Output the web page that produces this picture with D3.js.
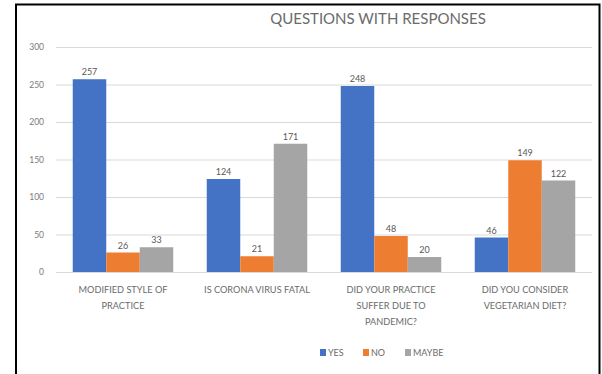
<!DOCTYPE html>
<html><head><meta charset="utf-8">
<script src="https://cdn.jsdelivr.net/npm/d3@7/dist/d3.min.js"></script>
<style>
html,body{margin:0;padding:0;background:#fff;}
svg{display:block;}
text{font-family:Lato,"Open Sans",sans-serif;}
</style></head>
<body>
<svg id="c" width="602" height="374"></svg>
<script>
const categories = [
  ["MODIFIED STYLE OF", "PRACTICE"],
  ["IS CORONA VIRUS FATAL"],
  ["DID YOUR PRACTICE", "SUFFER DUE TO", "PANDEMIC?"],
  ["DID YOU CONSIDER", "VEGETARIAN DIET?"]
];
const seriesNames = ["YES", "NO", "MAYBE"];
const yesValues = [257, 124, 248, 46];
const noValues = [26, 21, 48, 149];
const maybeValues = [33, 171, 20, 122];
const yTicks = [0, 50, 100, 150, 200, 250, 300];
const colors = ["#4472C4", "#ED7D31", "#A5A5A5"];

const series = [yesValues, noValues, maybeValues];
const svg = d3.select("#c");

// frame
svg.append("rect").attr("x", 16).attr("y", 4.5).attr("width", 583.5).attr("height", 380)
  .attr("fill", "#fff").attr("stroke", "#000").attr("stroke-width", 2);

const x0 = d3.scaleBand().domain(d3.range(categories.length)).range([56, 592])
  .paddingInner(0.25).paddingOuter(0.125);
const x1 = d3.scaleBand().domain(d3.range(seriesNames.length)).range([0, x0.bandwidth()]);
const y = d3.scaleLinear().domain([0, 300]).range([272, 47]);

// title
svg.append("text").attr("x", 378).attr("y", 24).attr("text-anchor", "middle")
  .attr("font-size", 15).attr("fill", "#6b6b6b").text("QUESTIONS WITH RESPONSES");

// gridlines + y axis
const yAxis = d3.axisLeft(y).tickValues(yTicks).tickSize(-(592 - 56)).tickPadding(12);
const ga = svg.append("g").attr("transform", "translate(56,0)").call(yAxis);
ga.select(".domain").remove();
ga.selectAll(".tick line").attr("stroke", "#D9D9D9").attr("stroke-width", 1);
ga.selectAll(".tick text").attr("fill", "#7a7a7a").attr("font-size", 8.5)
  .attr("font-family", "Lato");

// bars
const groups = svg.append("g").selectAll("g").data(categories).join("g")
  .attr("transform", (d, i) => `translate(${x0(i)},0)`);
series.forEach((vals, s) => {
  groups.append("rect")
    .attr("x", x1(s)).attr("width", x1.bandwidth())
    .attr("y", (d, i) => y(vals[i])).attr("height", (d, i) => y(0) - y(vals[i]))
    .attr("fill", colors[s]);
  groups.append("text")
    .attr("x", x1(s) + x1.bandwidth() / 2).attr("y", (d, i) => y(vals[i]) - 4)
    .attr("text-anchor", "middle").attr("font-size", 9).attr("fill", "#595959")
    .text((d, i) => vals[i]);
});

// x axis line
svg.append("line").attr("x1", 56).attr("x2", 592).attr("y1", y(0) + 0.5).attr("y2", y(0) + 0.5)
  .attr("stroke", "#D9D9D9");

// category labels
groups.append("text").attr("text-anchor", "middle").attr("font-size", 9.2).attr("fill", "#6b6b6b")
  .attr("transform", `translate(${x0.bandwidth() / 2},0)`)
  .selectAll("tspan").data(d => d).join("tspan")
  .attr("x", 0).attr("y", (d, i) => 293 + i * 16).text(d => d);

// legend
const legendX = [320, 363, 405];
const lg = svg.append("g").selectAll("g").data(seriesNames).join("g")
  .attr("transform", (d, i) => `translate(${legendX[i]},349)`);
lg.append("rect").attr("width", 6).attr("height", 7).attr("fill", (d, i) => colors[i]);
lg.append("text").attr("x", 8).attr("y", 7).attr("font-size", 9).attr("fill", "#6b6b6b").text(d => d);
</script>
</body></html>
